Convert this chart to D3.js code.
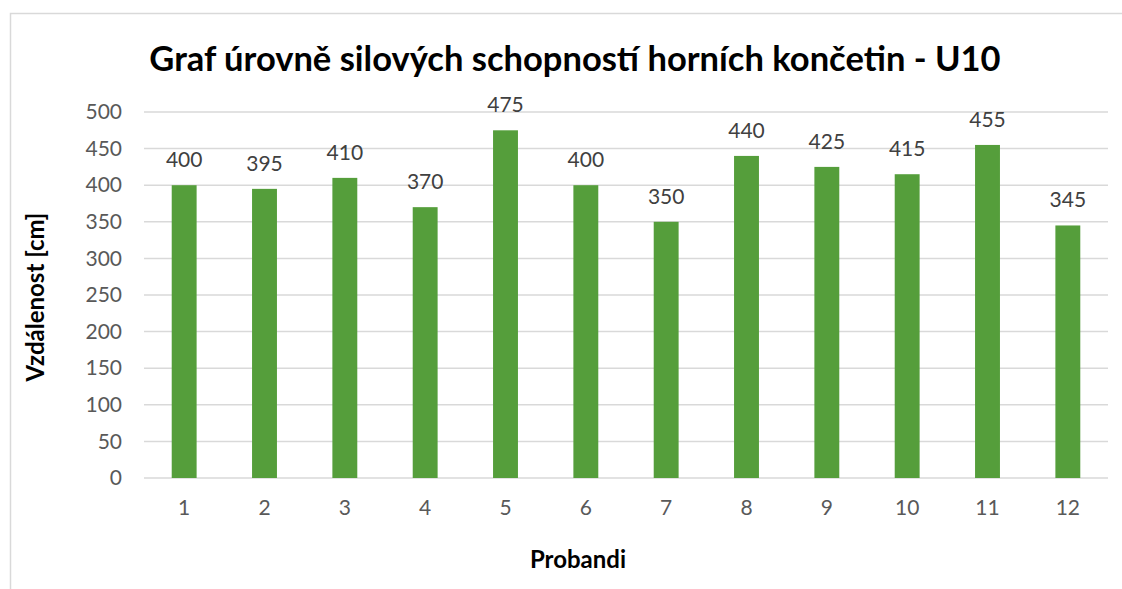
<!DOCTYPE html>
<html>
<head>
<meta charset="utf-8">
<script src="https://cdn.jsdelivr.net/npm/d3@7"></script>
<style>
  body { margin: 0; background: #fff; }
  text { font-family: Lato, "Open Sans", sans-serif; }
</style>
</head>
<body>
<div id="chart"></div>
<script>
// Data
var probandi = ["1", "2", "3", "4", "5", "6", "7", "8", "9", "10", "11", "12"];
var vzdalenost = [400, 395, 410, 370, 475, 400, 350, 440, 425, 415, 455, 345];
var yTicks = [0, 50, 100, 150, 200, 250, 300, 350, 400, 450, 500];

var width = 1122;
var height = 589;
var margin = {left: 144, right: 14, top: 112, bottom: 111};

var svg = d3.select("#chart").append("svg")
		.attr("width", width)
		.attr("height", height);

// chart frame (left + top edges visible in reference)
svg.append("path")
		.attr("d", "M10.5,589 L10.5,13.5 L1122,13.5")
		.attr("fill", "none")
		.attr("stroke", "#d9d9d9")
		.attr("stroke-width", 1.5);

var x = d3.scaleBand()
		.domain(probandi)
		.range([margin.left, width - margin.right])
		.paddingInner(0.69)
		.paddingOuter(0.345);

var y = d3.scaleLinear()
		.domain([0, 500])
		.range([height - margin.bottom, margin.top]);

// gridlines
svg.append("g")
		.selectAll("line")
		.data(yTicks)
		.enter().append("line")
		.attr("x1", margin.left)
		.attr("x2", width - margin.right)
		.attr("y1", function(d) { return y(d); })
		.attr("y2", function(d) { return y(d); })
		.attr("stroke", "#d9d9d9")
		.attr("stroke-width", 1.5);

// y tick labels
var yAxis = svg.append("g")
		.attr("transform", "translate(" + (margin.left - 22) + ",0)")
		.call(d3.axisLeft(y).tickValues(yTicks).tickSize(0).tickPadding(0));
yAxis.select(".domain").remove();
yAxis.selectAll("text")
		.attr("fill", "#595959")
		.style("font-size", "21px");

// x tick labels
var xAxis = svg.append("g")
		.attr("transform", "translate(0," + (height - margin.bottom + 21) + ")")
		.call(d3.axisBottom(x).tickSize(0).tickPadding(0));
xAxis.select(".domain").remove();
xAxis.selectAll("text")
		.attr("fill", "#595959")
		.attr("dy", "0.75em")
		.style("font-size", "21px");

// bars
svg.append("g")
		.selectAll("rect")
		.data(vzdalenost)
		.enter().append("rect")
		.attr("x", function(d, i) { return x(probandi[i]); })
		.attr("y", function(d) { return y(d); })
		.attr("width", x.bandwidth())
		.attr("height", function(d) { return y(0) - y(d); })
		.attr("fill", "#559e3b");

// value labels
svg.append("g")
		.selectAll("text")
		.data(vzdalenost)
		.enter().append("text")
		.attr("x", function(d, i) { return x(probandi[i]) + x.bandwidth() / 2; })
		.attr("y", function(d) { return y(d) - 18; })
		.attr("text-anchor", "middle")
		.attr("fill", "#404040")
		.style("font-size", "21px")
		.text(function(d) { return d; });

// title
svg.append("text")
		.attr("x", 575)
		.attr("y", 71)
		.attr("text-anchor", "middle")
		.attr("fill", "#000")
		.style("font-size", "34.5px")
		.style("font-weight", "bold")
		.text("Graf úrovně silových schopností horních končetin - U10");

// axis titles
svg.append("text")
		.attr("transform", "translate(44,297) rotate(-90)")
		.attr("text-anchor", "middle")
		.attr("fill", "#000")
		.style("font-size", "24px")
		.style("font-weight", "bold")
		.text("Vzdálenost [cm]");

svg.append("text")
		.attr("x", 578)
		.attr("y", 568)
		.attr("text-anchor", "middle")
		.attr("fill", "#000")
		.style("font-size", "24px")
		.style("font-weight", "bold")
		.text("Probandi");
</script>
</body>
</html>
